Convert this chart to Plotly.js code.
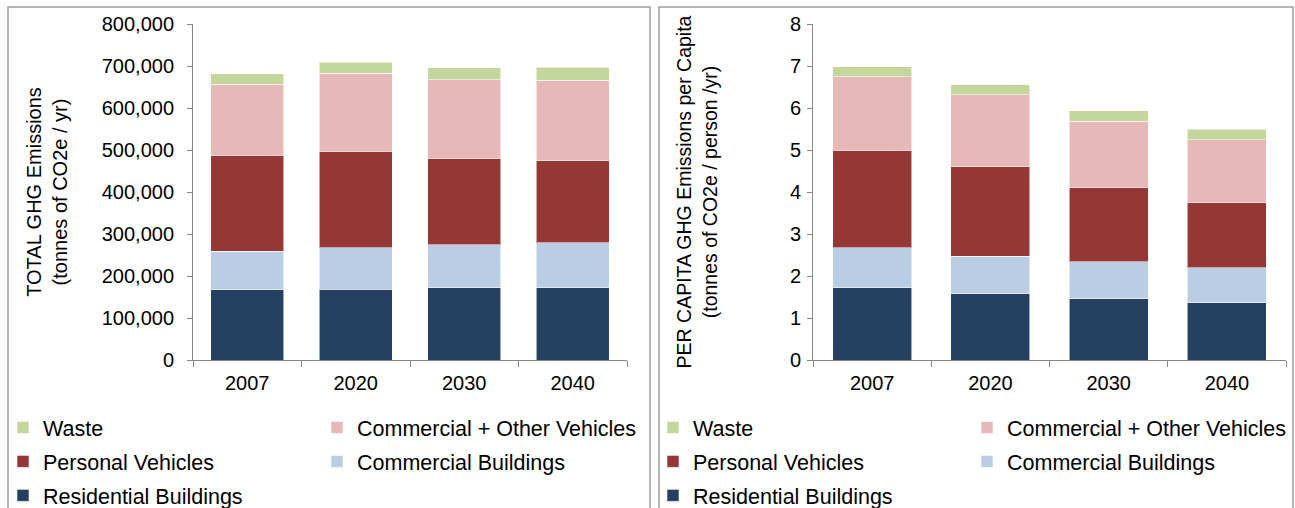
<!DOCTYPE html>
<html>
<head>
<meta charset="utf-8">
<script src="https://cdn.plot.ly/plotly-3.0.1.min.js"></script>
<style>
  html, body { margin: 0; padding: 0; background: #fff; }
  #chart { width: 1295px; height: 508px; }
</style>
</head>
<body>
<div id="chart"></div>
<script>
// ---- data ----
var categories = ['2007', '2020', '2030', '2040'];
var seriesNames = ['Residential Buildings', 'Commercial Buildings', 'Personal Vehicles', 'Commercial + Other Vehicles', 'Waste'];

// TOTAL GHG emissions (tonnes CO2e / yr)
var totalResidential = [167000, 169000, 172000, 172500];
var totalCommBuildings = [92000, 98000, 102000, 106500];
var totalPersonalVeh = [228000, 230000, 206000, 196000];
var totalCommOtherVeh = [170000, 186000, 187000, 191000];
var totalWaste = [25000, 26000, 29000, 31000];

// PER CAPITA GHG emissions (tonnes CO2e / person / yr)
var capitaResidential = [1.72, 1.58, 1.46, 1.36];
var capitaCommBuildings = [0.95, 0.89, 0.88, 0.84];
var capitaPersonalVeh = [2.32, 2.13, 1.76, 1.54];
var capitaCommOtherVeh = [1.75, 1.71, 1.59, 1.50];
var capitaWaste = [0.24, 0.24, 0.25, 0.25];

var leftYTicks = [0, 100000, 200000, 300000, 400000, 500000, 600000, 700000, 800000];
var rightYTicks = [0, 1, 2, 3, 4, 5, 6, 7, 8];

// ---- styling ----
var colors = ['#254061', '#B9CDE5', '#953735', '#E6B9B8', '#C3D69B'];
var W = 1295, H = 508;
var FONT = 'Liberation Sans, Arial, sans-serif';
function px(x) { return x / W; }
function py(y) { return (H - y) / H; }

var totalSeries = [totalResidential, totalCommBuildings, totalPersonalVeh, totalCommOtherVeh, totalWaste];
var capitaSeries = [capitaResidential, capitaCommBuildings, capitaPersonalVeh, capitaCommOtherVeh, capitaWaste];
// legend columns: column 1 = Waste, Personal Vehicles, Residential Buildings; column 2 = the others
var leftLegendFor = ['legend', 'legend2', 'legend', 'legend2', 'legend'];
var rightLegendFor = ['legend3', 'legend4', 'legend3', 'legend4', 'legend3'];
var legendRanks = [3, 2, 2, 1, 1];

var traces = [];
seriesNames.forEach(function (name, i) {
  traces.push({
    type: 'bar', name: name, x: categories, y: totalSeries[i],
    xaxis: 'x', yaxis: 'y',
    marker: { color: colors[i], line: { color: 'rgba(255,255,255,0.55)', width: 1 } },
    legend: leftLegendFor[i], legendgroup: 'L' + i, legendrank: legendRanks[i],
    hovertemplate: name + ': %{y:,}<extra></extra>'
  });
});
seriesNames.forEach(function (name, i) {
  traces.push({
    type: 'bar', name: name, x: categories, y: capitaSeries[i],
    xaxis: 'x2', yaxis: 'y2',
    marker: { color: colors[i], line: { color: 'rgba(255,255,255,0.55)', width: 1 } },
    legend: rightLegendFor[i], legendgroup: 'R' + i, legendrank: legendRanks[i],
    hovertemplate: name + ': %{y}<extra></extra>'
  });
});

var axisCommon = {
  showgrid: false, zeroline: false, showline: true,
  linecolor: '#868686', linewidth: 1,
  ticks: 'outside', ticklen: 5, tickcolor: '#868686', tickwidth: 1,
  tickfont: { family: FONT, size: 20, color: '#000' },
  fixedrange: true
};

function legendAt(xpx, ytoppx) {
  return {
    x: px(xpx), y: py(ytoppx), xanchor: 'left', yanchor: 'top',
    orientation: 'v', traceorder: 'grouped', tracegroupgap: 3,
    bgcolor: 'rgba(0,0,0,0)', borderwidth: 0,
    font: { family: FONT, size: 21.5, color: '#000' },
    itemclick: false, itemdoubleclick: false
  };
}

var layout = {
  width: W, height: H,
  margin: { l: 0, r: 0, t: 0, b: 0, autoexpand: false },
  paper_bgcolor: '#fff', plot_bgcolor: 'rgba(0,0,0,0)',
  barmode: 'stack', bargap: 0.33,
  font: { family: FONT, color: '#000' },
  showlegend: true,
  xaxis: Object.assign({}, axisCommon, {
    domain: [px(193), px(627)], anchor: 'y', type: 'category',
    tickson: 'boundaries', ticklen: 6, ticklabelstandoff: 5
  }),
  yaxis: Object.assign({}, axisCommon, {
    domain: [py(360), py(24)], anchor: 'x',
    range: [0, 800000], tickvals: leftYTicks, tickformat: ',d', ticklabelstandoff: 9,
    title: { text: 'TOTAL GHG Emissions<br>(tonnes of CO2e / yr)', font: { family: FONT, size: 20, color: '#000' }, standoff: 28 }
  }),
  xaxis2: Object.assign({}, axisCommon, {
    domain: [px(813), px(1286)], anchor: 'y2', type: 'category',
    tickson: 'boundaries', ticklen: 6, ticklabelstandoff: 5
  }),
  yaxis2: Object.assign({}, axisCommon, {
    domain: [py(360), py(24)], anchor: 'x2',
    range: [0, 8], tickvals: rightYTicks, ticklabelstandoff: 2,
    title: { text: 'PER CAPITA GHG Emissions per Capita<br>(tonnes of CO2e / person /yr)', font: { family: FONT, size: 19.5, color: '#000' }, standoff: 67 }
  }),
  legend: legendAt(3, 407),
  legend2: legendAt(317, 407),
  legend3: legendAt(653, 407),
  legend4: legendAt(967, 407),
  shapes: [
    { type: 'rect', xref: 'paper', yref: 'paper', x0: px(8), x1: px(650), y0: -0.05, y1: py(7), line: { color: '#9c9c9c', width: 1.5 }, layer: 'below' },
    { type: 'rect', xref: 'paper', yref: 'paper', x0: px(659), x1: px(1293), y0: -0.05, y1: py(7), line: { color: '#9c9c9c', width: 1.5 }, layer: 'below' }
  ]
};

Plotly.newPlot('chart', traces, layout, { displayModeBar: false, responsive: false });
</script>
</body>
</html>
